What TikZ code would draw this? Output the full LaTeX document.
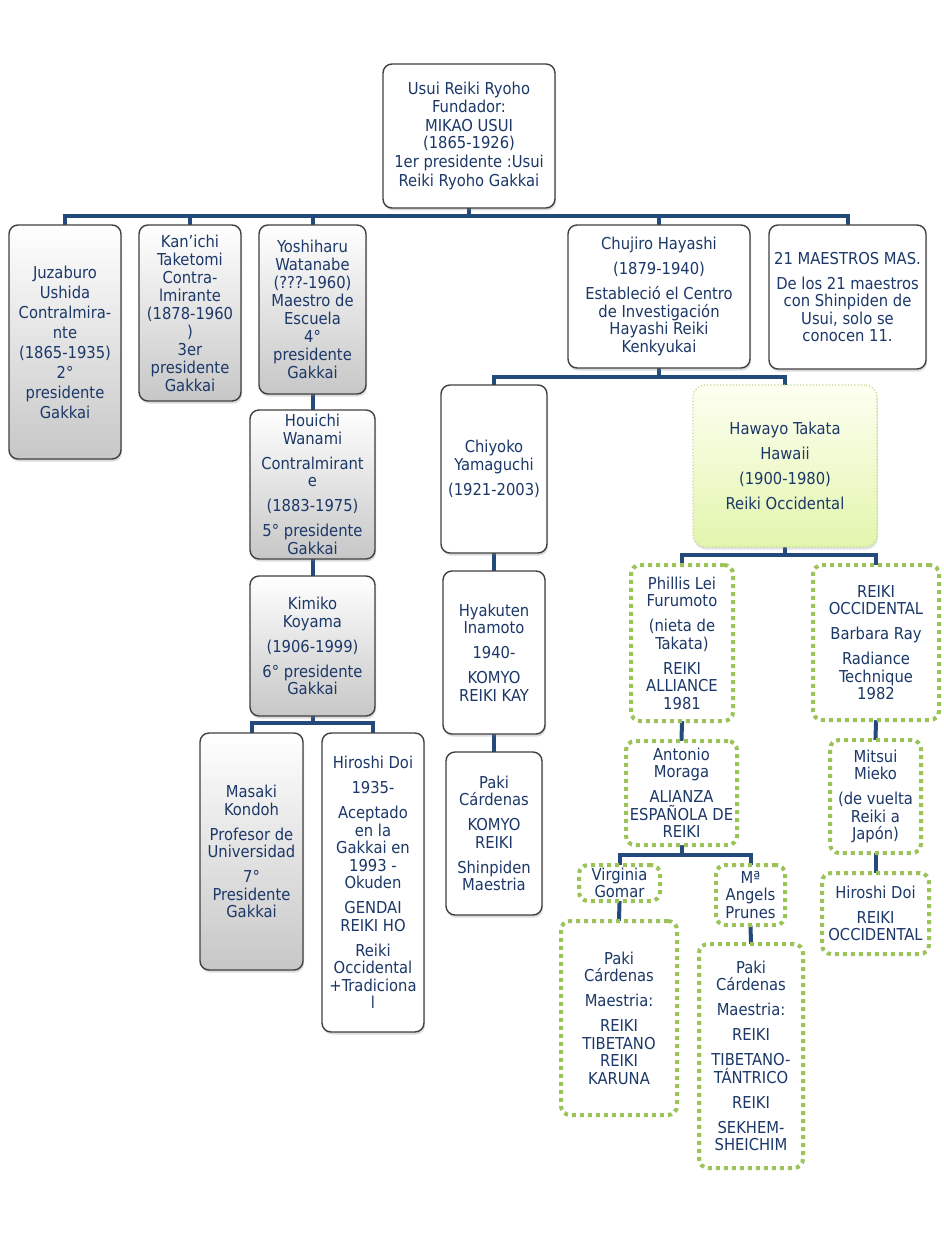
\documentclass[tikz,border=0pt]{standalone}
\usepackage{fontspec}
\setmainfont{DejaVu Sans Condensed}
\usetikzlibrary{shadows}
\definecolor{txt}{HTML}{1C3868}
\definecolor{conncol}{HTML}{244A7C}
\definecolor{bord}{HTML}{404040}
\definecolor{grn}{HTML}{9BC35A}
\definecolor{grnlite}{HTML}{BFDC8E}
\definecolor{hawtop}{HTML}{FEFFF2}
\definecolor{hawbot}{HTML}{E2F5AC}
\pgfdeclarelayer{bg}
\pgfsetlayers{bg,main}
\newcommand\pgap{\\[7.5pt]}
\tikzset{
  txtfont/.style={text=txt, font=\fontsize{16.4}{17.5}\selectfont},
  box/.style={txtfont, draw=bord, line width=1.4pt, rounded corners=9pt, align=center, inner sep=0pt,
    drop shadow={shadow xshift=1pt, shadow yshift=-2.5pt, opacity=0.28}},
  graybox/.style={box, top color=white, bottom color=black!22},
  whitebox/.style={box, fill=white},
  greenbox/.style={txtfont, draw=grn, line width=4pt, dash pattern=on 4pt off 4pt, rounded corners=9pt,
    fill=white, align=center, inner sep=0pt},
  hawbox/.style={txtfont, draw=grnlite, line width=1.2pt, dotted, rounded corners=12pt, align=center, inner sep=0pt,
    top color=hawtop, bottom color=hawbot,
    drop shadow={shadow xshift=1pt, shadow yshift=-2.5pt, opacity=0.22}},
  link/.style={draw=conncol, line width=4pt, line cap=rect},
}
\begin{document}
\begin{tikzpicture}[x=1pt,y=-1pt]
\useasboundingbox (0,0) rectangle (944,1233);

% level 0
\node[whitebox, minimum width=172pt, minimum height=144pt] (root) at (469,136)
  {Usui Reiki Ryoho\\Fundador:\\[1.5pt]MIKAO USUI\\(1865-1926)\\[1.5pt]1er presidente :Usui\\[1.5pt]Reiki Ryoho Gakkai};

% level 1
\node[graybox, minimum width=112pt, minimum height=234pt] (juz) at (65,342)
  {Juzaburo\\[2.5pt]Ushida\\[2.5pt]Contralmira-\\[2.5pt]nte\\[2.5pt](1865-1935)\\[2.5pt]2°\\[2.5pt]presidente\\[2.5pt]Gakkai};
\node[graybox, minimum width=102pt, minimum height=176pt] (kan) at (190,313)
  {Kan'ichi\\[0.5pt]Taketomi\\[0.5pt]Contra-\\[0.5pt]lmirante\\[0.5pt](1878-1960\\[0.5pt])\\[0.5pt]3er\\[0.5pt]presidente\\[0.5pt]Gakkai};
\node[graybox, minimum width=107pt, minimum height=169pt] (yosh) at (312.5,309.5)
  {Yoshiharu\\[0.5pt]Watanabe\\[0.5pt](???-1960)\\[0.5pt]Maestro de\\[0.5pt]Escuela\\[0.5pt]4°\\[0.5pt]presidente\\[0.5pt]Gakkai};
\node[whitebox, minimum width=182pt, minimum height=143pt] (chuj) at (659,296.5)
  {Chujiro Hayashi\pgap(1879-1940)\pgap Estableció el Centro\\de Investigación\\Hayashi Reiki\\Kenkyukai};
\node[whitebox, minimum width=157pt, minimum height=144pt] (maes) at (847.5,297)
  {21 MAESTROS MAS.\pgap De los 21 maestros\\con Shinpiden de\\Usui, solo se\\conocen 11.};

% left column
\node[graybox, minimum width=125pt, minimum height=149pt] (hou) at (312.5,484.5)
  {Houichi\\Wanami\pgap Contralmirant\\e\pgap(1883-1975)\pgap 5° presidente\\Gakkai};
\node[graybox, minimum width=125pt, minimum height=140pt] (kim) at (312.5,646)
  {Kimiko\\Koyama\pgap(1906-1999)\pgap 6° presidente\\Gakkai};
\node[graybox, minimum width=103pt, minimum height=237pt] (mas) at (251.5,851.5)
  {Masaki\\Kondoh\pgap Profesor de\\Universidad\pgap 7°\\Presidente\\Gakkai};
\node[whitebox, minimum width=102pt, minimum height=299pt] (hdoi) at (373,882.5)
  {Hiroshi Doi\pgap 1935-\pgap Aceptado\\en la\\Gakkai en\\1993 -\\Okuden\pgap GENDAI\\REIKI HO\pgap Reiki\\Occidental\\+Tradiciona\\l};

% Chiyoko column
\node[whitebox, minimum width=106pt, minimum height=168pt] (chiy) at (494,469)
  {Chiyoko\\Yamaguchi\pgap(1921-2003)};
\node[whitebox, minimum width=102pt, minimum height=163pt] (hyak) at (494,652.5)
  {Hyakuten\\Inamoto\pgap 1940-\pgap KOMYO\\REIKI KAY};
\node[whitebox, minimum width=96pt, minimum height=163pt] (pakiA) at (494,833.5)
  {Paki\\Cárdenas\pgap KOMYO\\REIKI\pgap Shinpiden\\Maestria};

% Takata branch
\node[hawbox, minimum width=184pt, minimum height=162pt] (haw) at (785,466)
  {Hawayo Takata\pgap Hawaii\pgap(1900-1980)\pgap Reiki Occidental};
\node[greenbox, minimum width=102pt, minimum height=156pt] (phil) at (682,643)
  {Phillis Lei\\Furumoto\pgap(nieta de\\Takata)\pgap REIKI\\ALLIANCE\\1981};
\node[greenbox, minimum width=126pt, minimum height=155pt] (barb) at (876,642.5)
  {REIKI\\OCCIDENTAL\pgap Barbara Ray\pgap Radiance\\Technique\\1982};
\node[greenbox, minimum width=111pt, minimum height=104pt] (anto) at (681.5,793)
  {Antonio\\Moraga\pgap ALIANZA\\ESPAÑOLA DE\\REIKI};
\node[greenbox, minimum width=91pt, minimum height=113pt] (mits) at (875.5,796.5)
  {Mitsui\\Mieko\pgap(de vuelta\\Reiki a\\Japón)};
\node[greenbox, minimum width=107pt, minimum height=81pt] (hdoiB) at (875.5,913.5)
  {Hiroshi Doi\pgap REIKI\\OCCIDENTAL};
\node[greenbox, minimum width=81pt, minimum height=36pt] (virg) at (619.5,883)
  {Virginia\\Gomar};
\node[greenbox, minimum width=69pt, minimum height=60pt] (ang) at (750.5,895)
  {Mª\\Angels\\Prunes};
\node[greenbox, minimum width=116pt, minimum height=194pt] (pakiB) at (619,1018)
  {Paki\\Cárdenas\pgap Maestria:\pgap REIKI\\TIBETANO\\REIKI\\KARUNA};
\node[greenbox, minimum width=104pt, minimum height=224pt] (pakiC) at (751,1056)
  {Paki\\Cárdenas\pgap Maestria:\pgap REIKI\pgap TIBETANO-\\TÁNTRICO\pgap REIKI\pgap SEKHEM-\\SHEICHIM};

% connectors
\begin{pgfonlayer}{bg}
\fill[white] (0,0) rectangle (944,1233);
\coordinate (b0) at (470,216);
\coordinate (b1) at (659,377);
\coordinate (b2) at (312,723);
\coordinate (b3) at (785,555);
\coordinate (b4) at (682,855);
% root bus
\draw[link] (root.south) -- (root.south |- b0);
\draw[link] (juz.north) |- (b0) -| (maes.north);
\draw[link] (kan.north) -- (kan.north |- b0);
\draw[link] (yosh.north) -- (yosh.north |- b0);
\draw[link] (chuj.north) -- (chuj.north |- b0);
% Yoshiharu chain
\draw[link] (yosh.south) -- (hou.north);
\draw[link] (hou.south) -- (kim.north);
\draw[link] (kim.south) -- (kim.south |- b2);
\draw[link] (mas.north) |- (b2) -| (hdoi.north);
% Chujiro bus
\draw[link] (chuj.south) -- (chuj.south |- b1);
\draw[link] (chiy.north) |- (b1) -| (haw.north);
\draw[link] (chiy.south) -- (hyak.north);
\draw[link] (hyak.south) -- (pakiA.north);
% Takata bus
\draw[link] (haw.south) -- (haw.south |- b3);
\draw[link] (phil.north) |- (b3) -| (barb.north);
\draw[link] (phil.south) -- (anto.north);
\draw[link] (barb.south) -- (mits.north);
\draw[link] (mits.south) -- (hdoiB.north);
% Antonio bus
\draw[link] (anto.south) -- (anto.south |- b4);
\draw[link] (virg.north) |- (b4) -| (ang.north);
\draw[link] (virg.south) -- (pakiB.north);
\draw[link] (ang.south) -- (pakiC.north);
\end{pgfonlayer}
\end{tikzpicture}
\end{document}
